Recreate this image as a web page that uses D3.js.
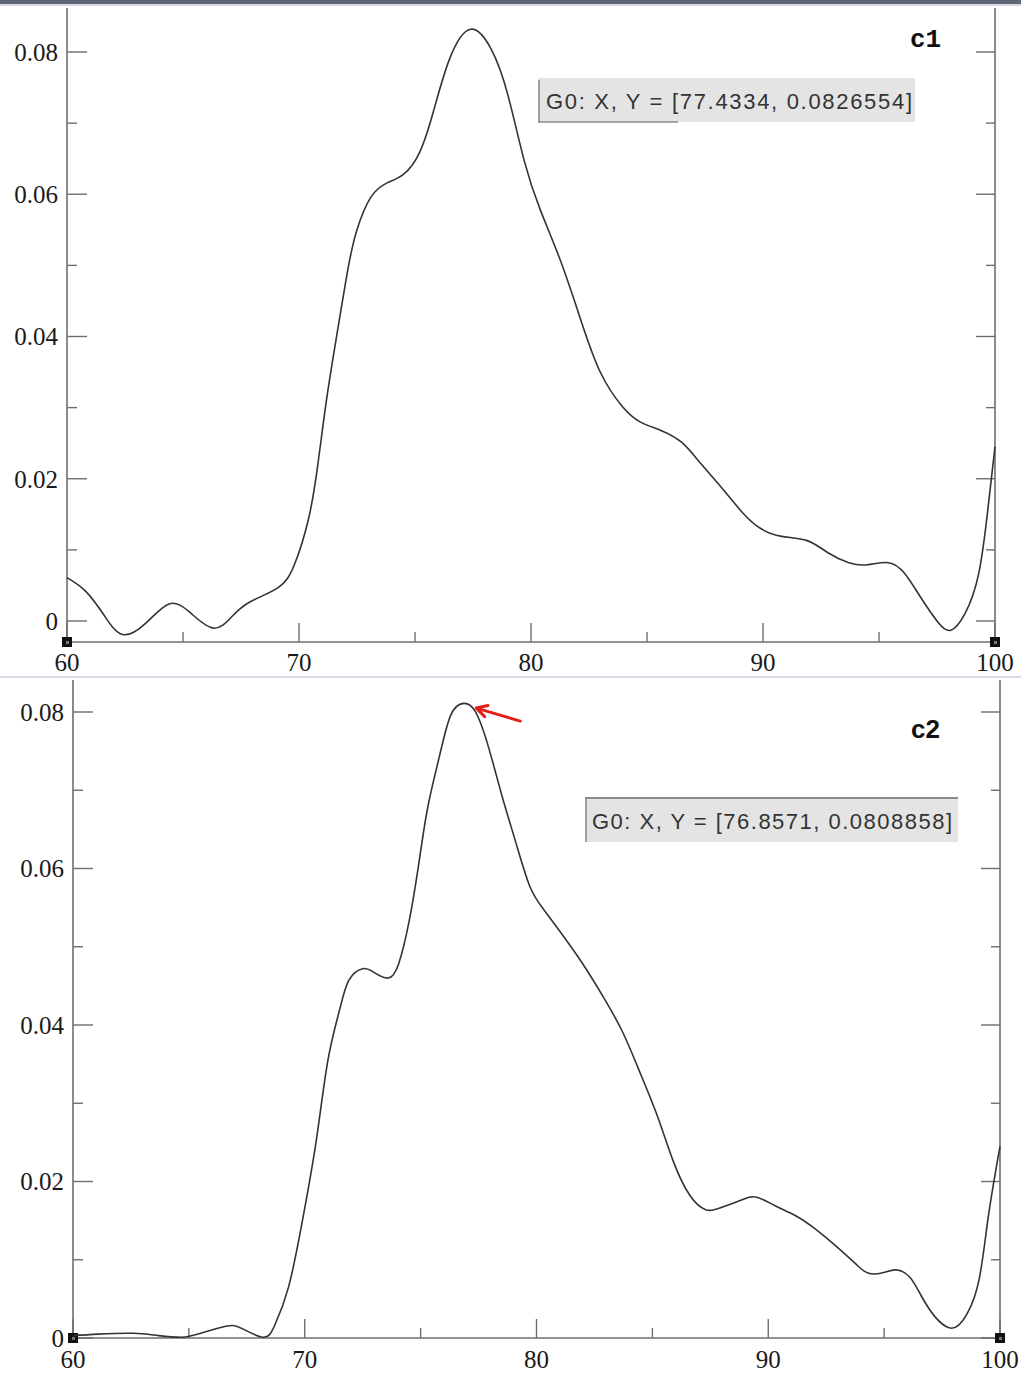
<!DOCTYPE html>
<html>
<head>
<meta charset="utf-8">
<script src="https://cdn.jsdelivr.net/npm/d3@7"></script>
<style>
  body { margin: 0; background: #fff; }
  svg { display: block; }
  .tick-label { font-family: "Liberation Serif", "DejaVu Serif", serif; font-size: 25px; fill: #1a1a1a; }
  .readout { font-family: "Liberation Sans", Arial, sans-serif; font-size: 22px; fill: #333; }
</style>
</head>
<body>
<svg id="chart"></svg>
<script>
const width = 1021;
const height = 1374;

// c1 density curve
const c1X = [60, 60.8, 61.6, 62.4, 63.4, 64.4, 65.3, 66.3, 67.1, 67.9, 69.1, 69.8, 70.4, 70.8, 71.2, 71.65, 72.1, 72.5, 73.1, 73.8, 74.5, 75.2, 75.8, 76.5, 77.4, 78.3, 79.0, 79.7, 80.4, 81.3, 82.2, 83.0, 83.9, 84.7, 85.6, 86.5, 87.3, 88.2, 89.1, 89.9, 90.8, 91.9, 92.8, 93.7, 94.5, 95.4, 96.1, 96.8, 97.55, 98.1, 98.7, 99.3, 99.7, 100];
const c1Y = [0.0061, 0.0042, 0.0008, -0.0019, -0.0003, 0.0024, 0.0012, -0.001, 0.0006, 0.0027, 0.0047, 0.0079, 0.0142, 0.0217, 0.0314, 0.0406, 0.0493, 0.055, 0.0596, 0.0616, 0.0628, 0.0659, 0.0717, 0.0791, 0.0832, 0.0803, 0.074, 0.0648, 0.0578, 0.0504, 0.0418, 0.0349, 0.0303, 0.028, 0.0268, 0.0251, 0.0222, 0.0188, 0.0153, 0.013, 0.0119, 0.0113, 0.0096, 0.0082, 0.0079, 0.0082, 0.0067, 0.0033, -0.0002, -0.0013, 0.001, 0.0067, 0.0159, 0.0245];

// c2 density curve
const c2X = [60, 61.1, 62.6, 63.7, 64.7, 65.4, 66.6, 67.3, 68.2, 68.7, 69.3, 69.9, 70.5, 71.0, 71.5, 71.9, 72.5, 73.0, 73.6, 74.05, 74.5, 74.9, 75.3, 75.8, 76.3, 76.85, 77.35, 77.9, 78.5, 79.1, 79.7, 80.3, 81.1, 82.0, 82.9, 83.7, 84.4, 85.2, 85.9, 86.6, 87.3, 88.0, 88.9, 89.5, 90.3, 91.2, 92.0, 92.9, 93.8, 94.3, 94.9, 95.5, 96.1, 96.6, 97.2, 97.8, 98.2, 98.6, 99.1, 99.5, 100];
const c2Y = [0.0003, 0.0005, 0.0006, 0.0003, 0.0001, 0.0005, 0.0015, 0.0012, 0.0001, 0.0016, 0.0065, 0.015, 0.0253, 0.0355, 0.0419, 0.0457, 0.0472, 0.0467, 0.046, 0.0478, 0.0532, 0.0602, 0.0677, 0.0742, 0.0796, 0.0811, 0.0801, 0.0758, 0.0694, 0.0634, 0.0578, 0.0548, 0.0516, 0.0478, 0.0435, 0.0392, 0.0344, 0.0285, 0.0226, 0.0183, 0.0164, 0.0167, 0.0177, 0.018, 0.0169, 0.0156, 0.014, 0.0118, 0.0094, 0.0083, 0.0083, 0.0087, 0.0078, 0.0054, 0.0027, 0.0013, 0.0016, 0.0032, 0.0075, 0.0156, 0.0245];

const xMajor = [60, 70, 80, 90, 100];
const xMinor = [65, 75, 85, 95];
const yMajor = [0, 0.02, 0.04, 0.06, 0.08];
const yMinor = [0.01, 0.03, 0.05, 0.07];
const yLabels = ["0", "0.02", "0.04", "0.06", "0.08"];

const readouts = ["G0: X, Y = [77.4334, 0.0826554]", "G0: X, Y = [76.8571, 0.0808858]"];
const panelNames = ["c1", "c2"];

const svg = d3.select("#chart").attr("width", width).attr("height", height);

// window chrome strip at the top
svg.append("rect").attr("x", 0).attr("y", 0).attr("width", width).attr("height", 4).attr("fill", "#5e6678");
svg.append("rect").attr("x", 0).attr("y", 4).attr("width", width).attr("height", 2).attr("fill", "#d3dae6");
// light separator between the two panels
svg.append("rect").attr("x", 0).attr("y", 676).attr("width", width).attr("height", 2).attr("fill", "#d6dde9");

const panels = [
  {
    xs: c1X, ys: c1Y,
    left: 67, right: 995, top: 8, bottom: 642,
    y0: 621, y8: 52,
    xLabelY: 671, yLabelX: 58,
    box: { x: 538, y: 78, w: 377, h: 44, textX: 546, textY: 109, textLen: 366 },
    name: { x: 910, y: 47, font: "'Liberation Mono', 'DejaVu Sans Mono', monospace" }
  },
  {
    xs: c2X, ys: c2Y,
    left: 73, right: 1000, top: 680, bottom: 1338,
    y0: 1338, y8: 712,
    xLabelY: 1368, yLabelX: 64,
    box: { x: 585, y: 797, w: 373, h: 45, textX: 592, textY: 829, textLen: 360 },
    name: { x: 911, y: 738, font: "'Liberation Sans', Arial, sans-serif" }
  }
];

const axisColor = "#6e6e6e";

panels.forEach((p, pi) => {
  const x = d3.scaleLinear().domain([60, 100]).range([p.left, p.right]);
  const y = d3.scaleLinear().domain([0, 0.08]).range([p.y0, p.y8]);
  const g = svg.append("g");

  // frame: left, right, bottom
  g.append("line").attr("x1", p.left).attr("x2", p.left).attr("y1", p.top).attr("y2", p.bottom)
    .attr("stroke", axisColor).attr("stroke-width", 1.6);
  g.append("line").attr("x1", p.right).attr("x2", p.right).attr("y1", p.top).attr("y2", p.bottom)
    .attr("stroke", axisColor).attr("stroke-width", 1.6);
  g.append("line").attr("x1", p.left).attr("x2", p.right).attr("y1", p.bottom).attr("y2", p.bottom)
    .attr("stroke", axisColor).attr("stroke-width", 1.6);

  // y ticks (inward on both sides)
  const yTicks = yMajor.map((v) => ({ v, len: 20 })).concat(yMinor.map((v) => ({ v, len: 10 })));
  g.selectAll(".ytl").data(yTicks).enter().append("line")
    .attr("x1", p.left).attr("x2", (d) => p.left + d.len)
    .attr("y1", (d) => y(d.v)).attr("y2", (d) => y(d.v))
    .attr("stroke", axisColor).attr("stroke-width", 1.4);
  g.selectAll(".ytr").data(yTicks).enter().append("line")
    .attr("x1", p.right).attr("x2", (d) => p.right - d.len + 1)
    .attr("y1", (d) => y(d.v)).attr("y2", (d) => y(d.v))
    .attr("stroke", axisColor).attr("stroke-width", 1.4);

  // x ticks (upward from the bottom axis)
  const xTicks = xMajor.map((v) => ({ v, len: 19 })).concat(xMinor.map((v) => ({ v, len: 10 })));
  g.selectAll(".xt").data(xTicks).enter().append("line")
    .attr("x1", (d) => x(d.v)).attr("x2", (d) => x(d.v))
    .attr("y1", p.bottom).attr("y2", (d) => p.bottom - d.len)
    .attr("stroke", axisColor).attr("stroke-width", 1.4);

  // labels
  g.selectAll(".yl").data(yMajor).enter().append("text")
    .attr("class", "tick-label")
    .attr("x", p.yLabelX).attr("y", (d) => y(d))
    .attr("dy", "0.35em").attr("text-anchor", "end")
    .text((d, i) => yLabels[i]);
  g.selectAll(".xl").data(xMajor).enter().append("text")
    .attr("class", "tick-label")
    .attr("x", (d) => x(d)).attr("y", p.xLabelY)
    .attr("text-anchor", "middle")
    .text((d) => d);

  // corner handles
  [p.left, p.right].forEach((cx) => {
    g.append("rect").attr("x", cx - 5).attr("y", p.bottom - 5).attr("width", 10).attr("height", 10).attr("fill", "#111");
    g.append("rect").attr("x", cx - 1).attr("y", p.bottom - 1).attr("width", 3).attr("height", 3).attr("fill", "#777");
  });

  // the curve
  const pts = p.xs.map((v, i) => [v, p.ys[i]]);
  const line = d3.line().x((d) => x(d[0])).y((d) => y(d[1])).curve(d3.curveNatural);
  g.append("path").datum(pts).attr("d", line)
    .attr("fill", "none").attr("stroke", "#333").attr("stroke-width", 1.6);

  // readout box
  const b = p.box;
  g.append("rect").attr("x", b.x).attr("y", b.y).attr("width", b.w).attr("height", b.h).attr("fill", "#e4e4e4");
  g.append("line").attr("x1", b.x + 1).attr("x2", b.x + 1).attr("y1", b.y + 2).attr("y2", b.y + b.h)
    .attr("stroke", "#8a8a8a").attr("stroke-width", 1.5);
  if (pi === 0) {
    g.append("line").attr("x1", b.x).attr("x2", b.x + 140).attr("y1", b.y + b.h).attr("y2", b.y + b.h)
      .attr("stroke", "#8a8a8a").attr("stroke-width", 1.5);
  } else {
    g.append("line").attr("x1", b.x).attr("x2", b.x + b.w).attr("y1", b.y + 1).attr("y2", b.y + 1)
      .attr("stroke", "#8a8a8a").attr("stroke-width", 2);
  }
  g.append("text").attr("class", "readout")
    .attr("x", b.textX).attr("y", b.textY)
    .attr("textLength", b.textLen).attr("lengthAdjust", "spacing")
    .text(readouts[pi]);

  // panel name
  g.append("text").attr("x", p.name.x).attr("y", p.name.y)
    .style("font-family", p.name.font).style("font-weight", "bold").style("font-size", "26px")
    .attr("fill", "#111")
    .text(panelNames[pi]);

  // red arrow pointing at the c2 peak
  if (pi === 1) {
    const tipX = x(77.4), tipY = y(0.0805);
    const tailX = tipX + 44, tailY = tipY + 13;
    const ang = Math.atan2(tipY - tailY, tipX - tailX);
    const head = 12;
    g.append("path")
      .attr("d",
        `M${tailX},${tailY}L${tipX},${tipY}` +
        `M${tipX + head * Math.cos(ang + Math.PI - 0.5)},${tipY + head * Math.sin(ang + Math.PI - 0.5)}` +
        `L${tipX},${tipY}` +
        `L${tipX + head * Math.cos(ang + Math.PI + 0.5)},${tipY + head * Math.sin(ang + Math.PI + 0.5)}`)
      .attr("fill", "none").attr("stroke", "#e3201b").attr("stroke-width", 3)
      .attr("stroke-linecap", "round").attr("stroke-linejoin", "round");
  }
});
</script>
</body>
</html>
